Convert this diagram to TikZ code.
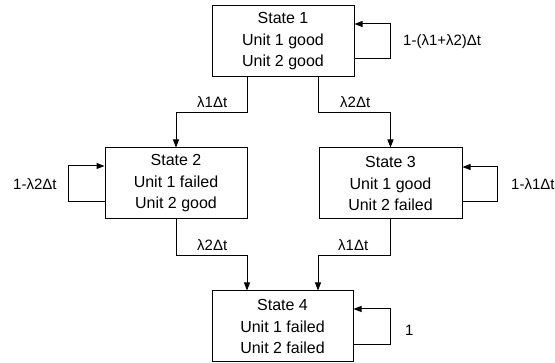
\documentclass[tikz,border=0pt]{standalone}
\usepackage{fontspec}
\setmainfont{Liberation Sans}
\usetikzlibrary{arrows.meta,calc}
\begin{document}
\begin{tikzpicture}[x=1pt,y=-1pt,
  statebox/.style={draw,line width=1pt,minimum width=142pt,minimum height=71pt,align=center,inner sep=0pt,font=\fontsize{16}{21.5}\selectfont},
  lbl/.style={anchor=west,inner sep=0pt,font=\fontsize{15}{18}\selectfont},
  arr/.style={line width=1pt,-{Triangle[length=8pt,width=6pt]}}]
\useasboundingbox (0,0) rectangle (555,363);
\node[statebox] (s1) at (283,41.5) {State 1\\Unit 1 good\\Unit 2 good};
\node[statebox] (s2) at (176,183.5) {State 2\\Unit 1 failed\\Unit 2 good};
\node[statebox,minimum width=143pt] (s3) at (390.5,183.5) {State 3\\Unit 1 good\\Unit 2 failed};
\node[statebox,minimum width=141pt] (s4) at (282.5,326.5) {State 4\\Unit 1 failed\\Unit 2 failed};
% transitions
\draw[arr] ($(s1.south west)!0.25!(s1.south east)$) -- ++(0,35.5) -| (s2.north);
\draw[arr] ($(s1.south west)!0.75!(s1.south east)$) -- ++(0,35.5) -| (s3.north);
\draw[arr] (s2.south) -- ++(0,36) -| ($(s4.north west)!0.25!(s4.north east)$);
\draw[arr] (s3.south) -- ++(0,36) -| ($(s4.north west)!0.75!(s4.north east)$);
% self loops
\draw[arr] ([yshift=-17.5pt]s1.east) -- ++(36,0) |- ([yshift=17.5pt]s1.east);
\draw[arr] ([yshift=-18.5pt]s2.west) -- ++(-36,0) |- ([yshift=17.5pt]s2.west);
\draw[arr] ([yshift=-18.5pt]s3.east) -- ++(35,0) |- ([yshift=16.5pt]s3.east);
\draw[arr] ([yshift=-18.5pt]s4.east) -- ++(37,0) |- ([yshift=17.5pt]s4.east);
% labels
\node[lbl] (l11) at (403,42) {1-(λ1+λ2)Δt};
\node[lbl] (l12) at (197,102) {λ1Δt};
\node[lbl] (l13) at (340,102) {λ2Δt};
\node[lbl] (l22) at (13,184) {1-λ2Δt};
\node[lbl] (l33) at (511,184) {1-λ1Δt};
\node[lbl] (l24) at (197,245) {λ2Δt};
\node[lbl] (l34) at (338,245) {λ1Δt};
\node[lbl] (l44) at (405,330) {1};
\end{tikzpicture}
\end{document}
